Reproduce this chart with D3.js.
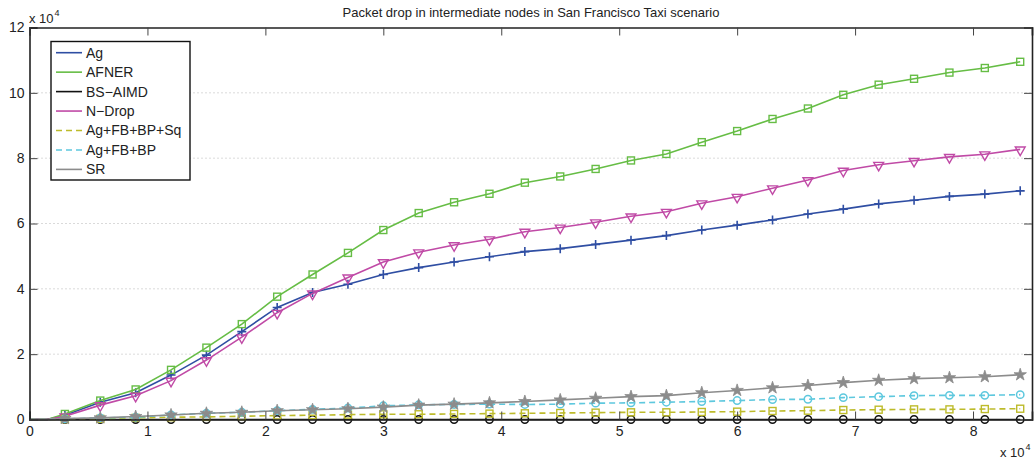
<!DOCTYPE html>
<html>
<head>
<meta charset="utf-8">
<script src="https://cdn.jsdelivr.net/npm/d3@7"></script>
<style>
  html, body { margin: 0; padding: 0; background: #fff; }
  svg { display: block; font-family: "Liberation Sans", Arial, Helvetica, sans-serif; }
</style>
</head>
<body>
<svg id="chart" width="1036" height="463"></svg>
<script>
// ---------------- data ----------------
const xValues = [0, 1500, 3000, 6000, 9000, 12000, 15000, 18000, 21000, 24000, 27000, 30000,
  33000, 36000, 39000, 42000, 45000, 48000, 51000, 54000, 57000, 60000,
  63000, 66000, 69000, 72000, 75000, 78000, 81000, 84000];

const ag = [0, 0, 1300, 5300, 8200, 13600, 19700, 26900, 34300, 38900, 41400, 44400, 46500, 48200,
  49800, 51400, 52300, 53600, 54900, 56300, 58000, 59500, 61100, 62900, 64400, 66000, 67100, 68300, 69000, 70000];
const afner = [0, 0, 1700, 5800, 9200, 15200, 22000, 29200, 37600, 44400, 51000, 58000, 63200, 66500,
  69100, 72500, 74400, 76700, 79300, 81300, 84900, 88300, 92000, 95200, 99400, 102500, 104300, 106200, 107600, 109500];
const bsAimd = [0, 0, 0, 0, 0, 0, 0, 0, 0, 0, 0, 0, 0, 0, 0, 0, 0, 0, 0, 0, 0, 0, 0, 0, 0, 0, 0, 0, 0, 0];
const nDrop = [0, 0, 1000, 4400, 7300, 11900, 18200, 25200, 32700, 38600, 43500, 48200, 51200, 53400,
  55200, 57500, 58800, 60400, 62200, 63600, 66200, 68200, 70800, 73300, 76200, 78000, 79200, 80400, 81200, 82700];
const agFbBpSq = [0, 0, 100, 200, 500, 700, 800, 1000, 1200, 1300, 1500, 1600, 1600, 1700,
  1800, 1900, 2000, 2100, 2200, 2200, 2300, 2400, 2600, 2700, 2900, 3000, 3100, 3100, 3200, 3300];
const agFbBp = [0, 0, 200, 500, 700, 1400, 1900, 2200, 2700, 3100, 3500, 4200, 4500, 4600,
  4700, 4600, 4700, 5000, 5100, 5300, 5500, 5800, 6100, 6200, 6700, 7000, 7300, 7400, 7400, 7600];
const sr = [0, 0, 300, 500, 900, 1400, 1900, 2200, 2700, 3000, 3300, 3800, 4400, 4700,
  5100, 5500, 6000, 6500, 7000, 7300, 8200, 8900, 9700, 10400, 11300, 12000, 12500, 12800, 13100, 13700];

const seriesNames = ["Ag", "AFNER", "BS\u2212AIMD", "N\u2212Drop", "Ag+FB+BP+Sq", "Ag+FB+BP", "SR"];
const xTicks = [0, 10000, 20000, 30000, 40000, 50000, 60000, 70000, 80000];
const yTicks = [0, 20000, 40000, 60000, 80000, 100000, 120000];
const titleText = "Packet drop in intermediate nodes in San Francisco Taxi scenario";

// ---------------- styles ----------------
const styles = [
  { values: ag,       color: "#2f4ea3", dash: null,  marker: "plus" },
  { values: afner,    color: "#66bd45", dash: null,  marker: "square" },
  { values: bsAimd,   color: "#111111", dash: null,  marker: "circle" },
  { values: nDrop,    color: "#c04aa6", dash: null,  marker: "tri" },
  { values: agFbBpSq, color: "#bdbb2b", dash: "6,4", marker: "square" },
  { values: agFbBp,   color: "#5ec8de", dash: "6,4", marker: "circle" },
  { values: sr,       color: "#8c8c8c", dash: null,  marker: "star" }
];

// ---------------- layout ----------------
const L = 29.5, R = 1032, T = 27.5, B = 419.5;
const svg = d3.select("#chart");
const x = d3.scaleLinear().domain([0, 85000]).range([L, R]);
const y = d3.scaleLinear().domain([0, 120000]).range([B, T]);

// grid (horizontal dotted)
svg.append("g").selectAll("line").data(yTicks.filter(v => v > 0 && v < 120000)).join("line")
  .attr("x1", L).attr("x2", R).attr("y1", d => y(d)).attr("y2", d => y(d))
  .attr("stroke", "#b5b5b5").attr("stroke-width", 1).attr("stroke-dasharray", "1,3");

// lines & markers
const line = d3.line().x((d, i) => x(xValues[i])).y(d => y(d));
const star = d3.symbol().type(d3.symbolStar).size(48);
const tri = d3.symbol().type(d3.symbolTriangle).size(42);

styles.forEach(s => {
  const g = svg.append("g");
  g.append("path").datum(s.values).attr("d", line)
    .attr("fill", "none").attr("stroke", s.color).attr("stroke-width", 1.6)
    .attr("stroke-dasharray", s.dash);
  const pts = s.values.map((v, i) => ({ xv: xValues[i], v })).filter(p => p.xv > 0 && p.xv % 3000 === 0);
  const m = g.selectAll("g.m").data(pts).join("g")
    .attr("transform", p => `translate(${x(p.xv)},${y(p.v)})`);
  if (s.marker === "square") {
    m.append("rect").attr("x", -3.5).attr("y", -3.5).attr("width", 7).attr("height", 7)
      .attr("fill", "none").attr("stroke", s.color).attr("stroke-width", 1.4);
  } else if (s.marker === "circle") {
    m.append("circle").attr("r", 3.7).attr("fill", "none").attr("stroke", s.color).attr("stroke-width", 1.5);
  } else if (s.marker === "plus") {
    m.append("path").attr("d", "M-4.5,0H4.5M0,-4.5V4.5").attr("stroke", s.color).attr("stroke-width", 1.6);
  } else if (s.marker === "tri") {
    m.append("path").attr("d", tri).attr("transform", "rotate(180) translate(0,-0.5)")
      .attr("fill", "none").attr("stroke", s.color).attr("stroke-width", 1.4);
  } else if (s.marker === "star") {
    m.append("path").attr("d", star).attr("fill", s.color).attr("stroke", s.color).attr("stroke-width", 0.8);
  }
});

// axes (MATLAB style: inward ticks, box)
const axColor = "#222";
const fmt = d => String(d / 10000);
const axB = svg.append("g").attr("transform", `translate(0,${B})`)
  .call(d3.axisBottom(x).tickValues(xTicks).tickSize(-8).tickPadding(6).tickFormat(fmt));
const axL = svg.append("g").attr("transform", `translate(${L},0)`)
  .call(d3.axisLeft(y).tickValues(yTicks).tickSize(-8).tickPadding(5).tickFormat(fmt));
const axT = svg.append("g").attr("transform", `translate(0,${T})`)
  .call(d3.axisTop(x).tickValues(xTicks).tickSize(-8).tickFormat(""));
const axR = svg.append("g").attr("transform", `translate(${R},0)`)
  .call(d3.axisRight(y).tickValues(yTicks).tickSize(-8).tickFormat(""));
[axB, axL, axT, axR].forEach(a => {
  a.select(".domain").attr("stroke", axColor).attr("stroke-width", 1.6);
  a.selectAll(".tick line").attr("stroke", "#444").attr("stroke-width", 1);
  a.selectAll(".tick text").attr("fill", "#222").attr("font-size", 14)
    .attr("font-family", "Liberation Sans, Arial, sans-serif");
});
axB.selectAll(".tick text").attr("dy", "0.75em");

// exponent labels
const e1 = svg.append("text").attr("x", 29).attr("y", 23).attr("font-size", 13).attr("fill", "#222");
e1.append("tspan").text("x 10");
e1.append("tspan").attr("font-size", 9).attr("dy", -7).attr("dx", 1).text("4");
const e2 = svg.append("text").attr("x", 1000).attr("y", 457).attr("font-size", 13).attr("fill", "#222");
e2.append("tspan").text("x 10");
e2.append("tspan").attr("font-size", 9).attr("dy", -7).attr("dx", 1).text("4");

// title
svg.append("text").attr("x", 531).attr("y", 16.5).attr("text-anchor", "middle")
  .attr("font-size", 13).attr("fill", "#222").text(titleText);

// legend
const lg = svg.append("g");
lg.append("rect").attr("x", 51).attr("y", 41.5).attr("width", 139).attr("height", 138.5)
  .attr("fill", "#fff").attr("stroke", "#111").attr("stroke-width", 1.4);
seriesNames.forEach((name, i) => {
  const yy = 52.7 + i * 19.45;
  lg.append("line").attr("x1", 56).attr("x2", 82).attr("y1", yy).attr("y2", yy)
    .attr("stroke", styles[i].color).attr("stroke-width", 1.6).attr("stroke-dasharray", styles[i].dash);
  lg.append("text").attr("x", 86).attr("y", yy).attr("dy", "0.35em")
    .attr("font-size", 14).attr("fill", "#222").text(name);
});
</script>
</body>
</html>
